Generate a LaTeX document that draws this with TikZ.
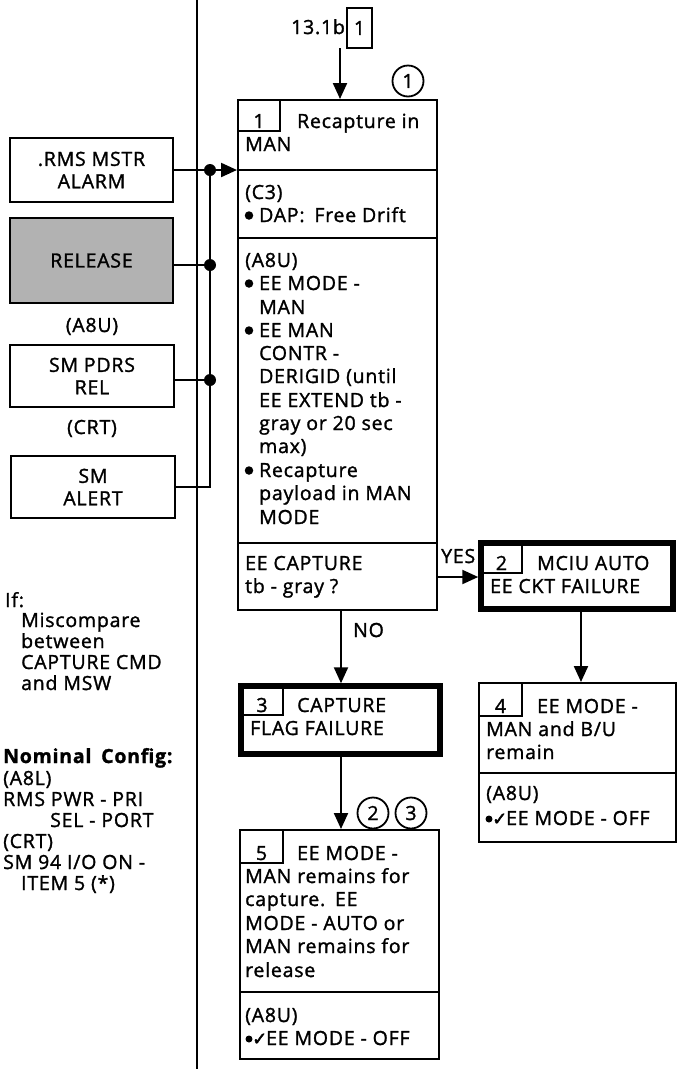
\documentclass[tikz,border=0pt]{standalone}
\usepackage{fontspec}
\setmainfont{Open Sans}[LetterSpace=4, FakeBold=1.4]
\newfontfamily\symfont{DejaVu Sans}[FakeBold=2.5]
\usetikzlibrary{arrows.meta}
\tikzset{
  every node/.style={font=\fontsize{19.5}{23.4}\selectfont},
  tl/.style={anchor=base west, inner sep=0pt},
  tc/.style={anchor=base, inner sep=0pt},
  boxline/.style={line width=2pt},
  box/.style={draw, line width=2pt, inner sep=0pt},
  thickbox/.style={draw, line width=5.5pt, inner sep=0pt},
  conn/.style={line width=2.2pt},
  arr/.style={conn, -{Triangle[length=16pt,width=14pt]}},
  jdot/.style={circle, fill, inner sep=0pt, minimum size=12pt},
  bul/.style={circle, fill, inner sep=0pt, minimum size=8.5pt},
  ring/.style={circle, draw, line width=1.8pt, inner sep=0pt, minimum size=31pt},
  chk/.style={anchor=base west, inner sep=0pt, font=\symfont\fontsize{18}{20}\selectfont},
}
\begin{document}
\begin{tikzpicture}[x=1pt,y=-1pt]
\useasboundingbox (0,0) rectangle (678,1069);

% divider
\coordinate (dtop) at (197,0);
\coordinate (dbot) at (197,1069);
\draw[conn] (dtop) -- (dbot);

% left boxes
\node[box, minimum width=163pt, minimum height=64pt, align=center] (rms) at (91.5,170) {.RMS MSTR\\[-1pt]ALARM};
\node[draw, line width=2.8pt, fill=black!30, inner sep=0pt, minimum width=163pt, minimum height=85pt] (rel) at (91.5,260.5) {RELEASE};
\node[tc] (a8ul) at (92,332) {(A8U)};
\node[box, minimum width=164pt, minimum height=62pt, align=center] (pdrs) at (92,376) {SM PDRS\\[-1pt]REL};
\node[tc] (crtl) at (92,434) {(CRT)};
\node[box, minimum width=164pt, minimum height=62pt, align=center] (alert) at (93,487) {SM\\[-1pt]ALERT};

% junctions
\coordinate (j1) at (210,170);
\coordinate (j2) at (210,265);
\coordinate (j3) at (210,380);
\coordinate (j4) at (210,487);

% main boxes
\node[box, minimum width=199pt, minimum height=510pt] (b1) at (337.5,355) {};
\node[thickbox, minimum width=192pt, minimum height=66pt] (b2) at (577,576) {};
\node[thickbox, minimum width=199pt, minimum height=68pt] (b3) at (340.5,720) {};
\node[box, minimum width=197pt, minimum height=159pt] (b4) at (577.5,762.5) {};
\node[box, minimum width=199pt, minimum height=229pt] (b5) at (339.5,944.5) {};

% connectors on the left
\draw[conn] (rms.east) -- (j1);
\draw[conn] (rel.east |- j2) -- (j2);
\draw[conn] (pdrs.east |- j3) -- (j3);
\draw[conn] (alert.east) -- (j4) -- (j1);
\draw[arr] (j1) -- (b1.west |- j1);
\node[jdot] (d1) at (j1) {};
\node[jdot] (d2) at (j2) {};
\node[jdot] (d3) at (j3) {};

% top reference
\node[tl] (ref) at (291,34) {13.1b};
\node[box, minimum width=25pt, minimum height=40pt] (refbox) at (359.5,28) {1};
\coordinate (tstart) at (340,48);
\draw[arr] (tstart) -- (tstart |- b1.north);
\node[ring] (c1) at (408,81) {1};

% box 1 internals
\draw[boxline] (238,131) -- (280,131) -- (280,100);
\draw[boxline] (238,170) -- (437,170);
\draw[boxline] (238,238) -- (437,238);
\draw[boxline] (238,543) -- (437,543);
\node[tc] (n1) at (259,128) {1};
\node[tl] (t1a) at (297,128) {Recapture in};
\node[tl] (t1b) at (245,151) {MAN};
\node[tl] (t1c) at (245,199) {(C3)};
\node[bul] (u1) at (249,215.5) {};
\node[tl] (t1d) at (259,222) {DAP:\enspace Free Drift};
\node[tl] (t1e) at (245,267) {(A8U)};
\node[bul] (u2) at (249,283.5) {};
\node[tl] (t1f) at (259,290) {EE MODE -};
\node[tl] (t1g) at (259,314) {MAN};
\node[bul] (u3) at (249,330.5) {};
\node[tl] (t1h) at (259,337) {EE MAN};
\node[tl] (t1i) at (259,360) {CONTR -};
\node[tl] (t1j) at (259,383) {DERIGID (until};
\node[tl] (t1k) at (259,407) {EE EXTEND tb -};
\node[tl] (t1l) at (259,430) {gray or 20 sec};
\node[tl] (t1m) at (259,453) {max)};
\node[bul] (u4) at (249,470.5) {};
\node[tl] (t1n) at (259,477) {Recapture};
\node[tl] (t1o) at (259,500) {payload in MAN};
\node[tl] (t1p) at (259,524) {MODE};
\node[tl] (t1q) at (245,570) {EE CAPTURE};
\node[tl] (t1r) at (245,593) {tb - gray ?};

% box 2
\draw[boxline] (481,573) -- (522,573) -- (522,543);
\node[tc] (n2) at (501.5,570) {2};
\node[tl] (t2a) at (537,570) {MCIU AUTO};
\node[tl] (t2b) at (490,593) {EE CKT FAILURE};

% box 3
\draw[boxline] (241,715) -- (283,715) -- (283,686);
\node[tc] (n3) at (262,712) {3};
\node[tl] (t3a) at (297,712) {CAPTURE};
\node[tl] (t3b) at (250,735) {FLAG FAILURE};

% box 4
\draw[boxline] (479,716) -- (522,716) -- (522,683);
\draw[boxline] (479,773) -- (676,773);
\node[tc] (n4) at (500.5,713) {4};
\node[tl] (t4a) at (537,713) {EE MODE -};
\node[tl] (t4b) at (486,736) {MAN and B/U};
\node[tl] (t4c) at (486,759) {remain};
\node[tl] (t4d) at (486,800) {(A8U)};
\node[bul, minimum size=7pt] (u5) at (489,819) {};
\node[chk] (k4) at (492,825) {✓};
\node[tl] (t4e) at (506,825) {EE MODE - OFF};

% box 5
\draw[boxline] (240,863) -- (283,863) -- (283,830);
\draw[boxline] (240,992) -- (439,992);
\node[tc] (n5) at (261.5,860) {5};
\node[tl] (t5a) at (297,860) {EE MODE -};
\node[tl] (t5b) at (245,883) {MAN remains for};
\node[tl] (t5c) at (245,906) {capture.\enspace EE};
\node[tl] (t5d) at (245,930) {MODE - AUTO or};
\node[tl] (t5e) at (245,953) {MAN remains for};
\node[tl] (t5f) at (245,977) {release};
\node[tl] (t5g) at (245,1022) {(A8U)};
\node[bul, minimum size=7pt] (u6) at (249,1039) {};
\node[chk] (k5) at (252,1045) {✓};
\node[tl] (t5h) at (266,1045) {EE MODE - OFF};

% flow connectors
\coordinate (yesy) at (0,577);
\draw[arr] (b1.east |- yesy) -- (b2.west |- yesy);
\node[tl] (yes) at (441,563) {YES};
\coordinate (ax) at (341,0);
\draw[arr] (b1.south -| ax) -- (b3.north -| ax);
\node[tl] (no) at (353,637) {NO};
\draw[arr] (b3.south -| ax) -- (b5.north -| ax);
\coordinate (bx) at (581,0);
\draw[arr] (b2.south -| bx) -- (b4.north -| bx);
\node[ring] (c2) at (373,813) {2};
\node[ring] (c3) at (411,813) {3};

% left notes
\node[tl] (if) at (5,607) {If:};
\node[tl] (if1) at (21,627) {Miscompare};
\node[tl] (if2) at (21,648) {between};
\node[tl] (if3) at (21,669) {CAPTURE CMD};
\node[tl] (if4) at (21,690) {and MSW};
\node[tl, font=\fontsize{19.5}{23.4}\selectfont\bfseries] (nom) at (3,763) {Nominal\enspace Config:};
\node[tl] (nc1) at (3,785) {(A8L)};
\node[tl] (nc2) at (3,806) {RMS PWR - PRI};
\node[tl] (nc3) at (50,827) {SEL - PORT};
\node[tl] (nc4) at (3,848) {(CRT)};
\node[tl] (nc5) at (3,869) {SM 94 I/O ON -};
\node[tl] (nc6) at (21,890) {ITEM 5 (*)};
\end{tikzpicture}
\end{document}
